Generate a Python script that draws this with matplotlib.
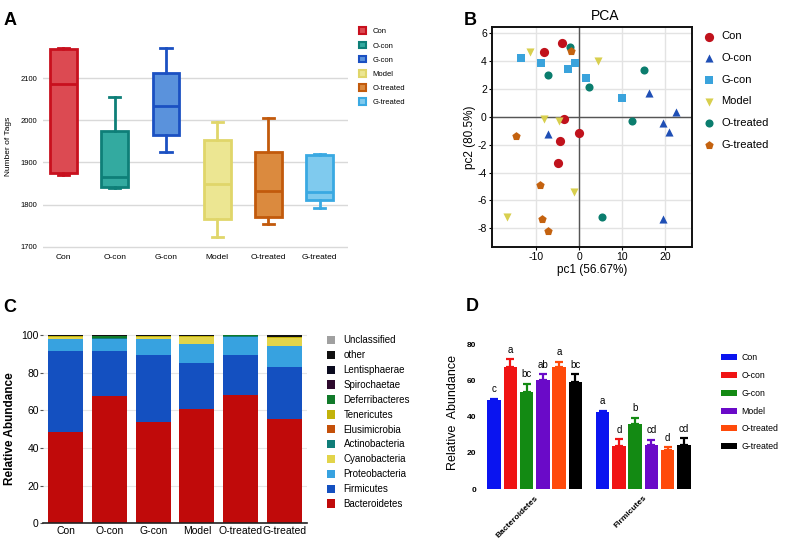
import numpy as np
import matplotlib
matplotlib.use('Agg')
import matplotlib.pyplot as plt
from matplotlib.patches import Patch

groups = ['Con', 'O-con', 'G-con', 'Model', 'O-treated', 'G-treated']

# A - number of tags (box stats)
tag_min = [1871, 1840, 1925, 1722, 1754, 1792]
tag_q1 = [1874, 1841, 1966, 1766, 1770, 1811]
tag_med = [2085, 1865, 2034, 1849, 1832, 1829]
tag_q3 = [2168, 1975, 2113, 1953, 1925, 1917]
tag_max = [2172, 2056, 2170, 1996, 2005, 1919]
box_edge = ['#c8101e', '#0e7f78', '#1b50c2', '#e0d66a', '#c25a0c', '#3aa9e2']
box_fill = ['#dc4a52', '#33aaa0', '#5a92dc', '#ece692', '#db8a3e', '#7fcaee']

# B - PCA scores
con_pc1 = [-4.0, -8.1, -3.5, 0.0, -4.5, -5.0]
con_pc2 = [5.3, 4.66, -0.14, -1.15, -1.77, -3.35]
ocon_pc1 = [16.2, 22.4, 19.5, 20.9, -7.2, 19.5]
ocon_pc2 = [1.72, 0.33, -0.48, -1.12, -1.24, -7.31]
gcon_pc1 = [-13.4, -8.76, -2.48, -1.0, 1.7, 9.9]
gcon_pc2 = [4.23, 3.87, 3.42, 3.87, 2.8, 1.34]
model_pc1 = [-11.3, 4.4, -8.2, -4.6, -1.1, -16.7]
model_pc2 = [4.64, 4.01, -0.19, -0.31, -5.4, -7.19]
otr_pc1 = [-2.2, -7.2, 2.25, 15.0, 12.3, 5.3]
otr_pc2 = [5.02, 2.96, 2.15, 3.32, -0.33, -7.17]
gtr_pc1 = [-1.9, -14.7, -9.2, -8.6, -7.3]
gtr_pc2 = [4.7, -1.41, -4.87, -7.33, -8.17]
pca_colors = ['#c0121c', '#1f4fb5', '#3aa3dc', '#d8cf4e', '#0b7d6e', '#c4620f']
pca_markers = ['o', '^', 's', 'v', 'o', 'p']

# C - phylum relative abundance (bottom to top)
phyla = ['Bacteroidetes', 'Firmicutes', 'Proteobacteria', 'Cyanobacteria', 'Actinobacteria',
         'Elusimicrobia', 'Tenericutes', 'Deferribacteres', 'Spirochaetae', 'Lentisphaerae',
         'other', 'Unclassified']
bacteroidetes = [48.7, 67.6, 53.8, 60.5, 68.1, 55.6]
firmicutes = [42.6, 24.1, 35.8, 24.8, 21.3, 27.2]
proteobacteria = [6.6, 6.2, 8.1, 9.9, 9.5, 11.2]
cyanobacteria = [0.9, 0.2, 1.2, 3.9, 0.2, 4.4]
actinobacteria = [0.1, 0.1, 0.1, 0.1, 0.3, 0.1]
elusimicrobia = [0.0, 0.0, 0.0, 0.0, 0.0, 0.0]
tenericutes = [0.5, 0.1, 0.3, 0.2, 0.1, 0.2]
deferribacteres = [0.1, 1.3, 0.1, 0.0, 0.3, 0.1]
spirochaetae = [0.0, 0.0, 0.0, 0.0, 0.0, 0.0]
lentisphaerae = [0.1, 0.1, 0.1, 0.1, 0.0, 0.4]
other = [0.3, 0.2, 0.4, 0.4, 0.1, 0.7]
unclassified = [0.1, 0.1, 0.1, 0.1, 0.1, 0.1]
phyla_colors = ['#c00a0a', '#1450c0', '#37a2e0', '#e2d44a', '#0f7d78', '#c4500a',
                '#c2b20a', '#117a2a', '#2d0a2d', '#0a0a1e', '#111111', '#a0a0a0']

# D - mean +- sem for the two main phyla
d_phyla = ['Bacteroidetes', 'Firmicutes']
bact_mean = [49.2, 67.6, 53.5, 60.5, 67.6, 59.0]
bact_err = [0.8, 4.2, 4.6, 2.9, 2.8, 4.4]
bact_sig = ['c', 'a', 'bc', 'ab', 'a', 'bc']
firm_mean = [42.6, 24.0, 36.1, 24.5, 21.4, 24.1]
firm_err = [0.7, 3.6, 3.3, 2.8, 1.8, 3.9]
firm_sig = ['a', 'd', 'b', 'cd', 'd', 'cd']
d_colors = ['#0a14f0', '#f01414', '#138a13', '#6a0ac8', '#ff4a0a', '#000000']

plt.rcParams['font.family'] = ['Liberation Sans', 'DejaVu Sans']
plt.rcParams['axes.unicode_minus'] = False

fig = plt.figure(figsize=(7.87, 5.4), dpi=100)

# ---------------- A ----------------
axA = fig.add_axes([0.0546, 0.5354, 0.3875, 0.3865])
pos = np.arange(6)
for i in range(6):
    st = {'whislo': tag_min[i], 'q1': tag_q1[i], 'med': tag_med[i],
          'q3': tag_q3[i], 'whishi': tag_max[i]}
    axA.bxp([st], positions=[pos[i]], widths=0.52, showfliers=False,
            patch_artist=True,
            boxprops=dict(facecolor=box_fill[i], edgecolor=box_edge[i], linewidth=2.0),
            medianprops=dict(color=box_edge[i], linewidth=2.0),
            whiskerprops=dict(color=box_edge[i], linewidth=2.0),
            capprops=dict(color=box_edge[i], linewidth=2.0), capwidths=0.22)
axA.set_xlim(-0.4, 5.55)
axA.set_ylim(1690, 2185)
axA.set_yticks([1700, 1800, 1900, 2000, 2100])
axA.set_xticks(pos)
axA.set_xticklabels(groups, fontsize=6)
axA.tick_params(axis='y', labelsize=5.5, length=0, pad=4)
axA.tick_params(axis='x', length=0, pad=2)
axA.grid(axis='y', color='#d9d9d9', linewidth=1.0)
axA.set_axisbelow(True)
for s in axA.spines.values():
    s.set_visible(False)
axA.set_ylabel('Number of Tags', fontsize=6, labelpad=6)
hA = [Patch(facecolor=box_fill[i], edgecolor=box_edge[i], linewidth=1.5) for i in range(6)]
fig.legend(hA, groups, loc='upper left', bbox_to_anchor=(0.452, 0.955), frameon=False,
           fontsize=5.5, handlelength=1.0, handleheight=1.0, labelspacing=0.8,
           handletextpad=0.8, borderaxespad=0)

# ---------------- B ----------------
axB = fig.add_axes([0.6248, 0.542, 0.2549, 0.4085])
pcx = [con_pc1, ocon_pc1, gcon_pc1, model_pc1, otr_pc1, gtr_pc1]
pcy = [con_pc2, ocon_pc2, gcon_pc2, model_pc2, otr_pc2, gtr_pc2]
sizes = [44, 34, 40, 34, 34, 40]
for i in range(6):
    axB.scatter(pcx[i], pcy[i], s=sizes[i], marker=pca_markers[i], color=pca_colors[i],
                linewidths=0, zorder=3, label=groups[i])
axB.axhline(0, color='#555555', linewidth=1.0, zorder=2)
axB.axvline(0, color='#555555', linewidth=1.0, zorder=2)
axB.set_xlim(-20.3, 26.3)
axB.set_ylim(-9.36, 6.45)
axB.set_xticks([-10, 0, 10, 20])
axB.set_yticks([-8, -6, -4, -2, 0, 2, 4, 6])
axB.grid(color='#e3e3e3', linewidth=1.0)
axB.set_axisbelow(True)
for s in axB.spines.values():
    s.set_linewidth(1.4)
    s.set_color('#111111')
axB.tick_params(labelsize=7.5, length=2, width=0.8, pad=1.5)
axB.set_xlabel('pc1 (56.67%)', fontsize=8.5, labelpad=1)
axB.set_ylabel('pc2 (80.5%)', fontsize=8.5, labelpad=1)
axB.set_title('PCA', fontsize=10, pad=5, x=0.565)
fig.legend(*axB.get_legend_handles_labels(), loc='upper left', bbox_to_anchor=(0.888, 0.95),
           frameon=False, fontsize=8, handlelength=1.0, labelspacing=1.05,
           handletextpad=0.6, borderaxespad=0, scatterpoints=1)

# ---------------- C ----------------
axC = fig.add_axes([0.0546, 0.0309, 0.3355, 0.3522])
stacks = [bacteroidetes, firmicutes, proteobacteria, cyanobacteria, actinobacteria,
          elusimicrobia, tenericutes, deferribacteres, spirochaetae, lentisphaerae,
          other, unclassified]
bottom = np.zeros(6)
for k in range(len(phyla)):
    axC.bar(pos, stacks[k], width=0.8, bottom=bottom, color=phyla_colors[k],
            linewidth=0, label=phyla[k], zorder=2)
    bottom += np.array(stacks[k])
axC.set_xlim(-0.52, 5.52)
axC.set_ylim(0, 101)
axC.set_yticks([0, 20, 40, 60, 80, 100])
axC.set_xticks(pos)
axC.set_xticklabels(groups, fontsize=7.5)
axC.tick_params(axis='y', labelsize=7.5, length=2, width=0.8, color='#555555', pad=1)
axC.tick_params(axis='x', length=0, pad=2)
axC.grid(axis='y', color='#e6e6e6', linewidth=0.8)
axC.set_axisbelow(True)
for s in ['top', 'right', 'left']:
    axC.spines[s].set_visible(False)
axC.spines['bottom'].set_linewidth(1.2)
axC.spines['bottom'].set_color('#222222')
axC.set_ylabel('Relative Abundance', fontsize=8.5, fontweight='bold', labelpad=4)
hC, lC = axC.get_legend_handles_labels()
fig.legend(hC[::-1], lC[::-1], loc='upper left', bbox_to_anchor=(0.41, 0.386),
           frameon=False, fontsize=7, handlelength=0.85, handleheight=0.95,
           labelspacing=0.5, handletextpad=0.9, borderaxespad=0)

# ---------------- D ----------------
axD = fig.add_axes([0.6125, 0.0944, 0.2668, 0.2846])
gap = 6.67
means = [bact_mean, firm_mean]
errs = [bact_err, firm_err]
sigs = [bact_sig, firm_sig]
for g in range(2):
    xs = pos + g * gap
    for i in range(6):
        axD.bar(xs[i], means[g][i], width=0.83, color=d_colors[i], zorder=2,
                label=groups[i] if g == 0 else None)
        axD.errorbar(xs[i], means[g][i], yerr=[[0], [errs[g][i]]], color=d_colors[i],
                     capsize=3.2, elinewidth=1.6, capthick=1.6, zorder=1)
        axD.text(xs[i], means[g][i] + errs[g][i] + 2.5, sigs[g][i], ha='center',
                 va='bottom', fontsize=7)
axD.set_xlim(-0.75, 12.17)
axD.set_ylim(0, 85)
axD.set_yticks([0, 20, 40, 60, 80])
axD.set_yticklabels(['0', '20', '40', '60', '80'], fontweight='bold')
axD.set_xticks([2.5, 2.5 + gap])
axD.set_xticklabels(d_phyla, rotation=45, ha='right', rotation_mode='anchor',
                    fontsize=6, fontweight='bold')
axD.tick_params(axis='y', labelsize=6, length=0, pad=4)
axD.tick_params(axis='x', length=0, pad=4)
for s in axD.spines.values():
    s.set_visible(False)
axD.set_ylabel('Relative  Abundance', fontsize=9, labelpad=6)
hD, lD = axD.get_legend_handles_labels()
fig.legend(hD, lD, loc='upper left', bbox_to_anchor=(0.912, 0.352), frameon=False,
           fontsize=6.3, handlelength=1.8, handleheight=0.7, labelspacing=1.0,
           handletextpad=0.5, borderaxespad=0)

# panel letters
for lab, x, y in [('A', 0.004, 0.978), ('B', 0.589, 0.978), ('C', 0.004, 0.447), ('D', 0.592, 0.449)]:
    fig.text(x, y, lab, fontsize=13, fontweight='bold', va='top')

fig.savefig('out.png', dpi=100)
